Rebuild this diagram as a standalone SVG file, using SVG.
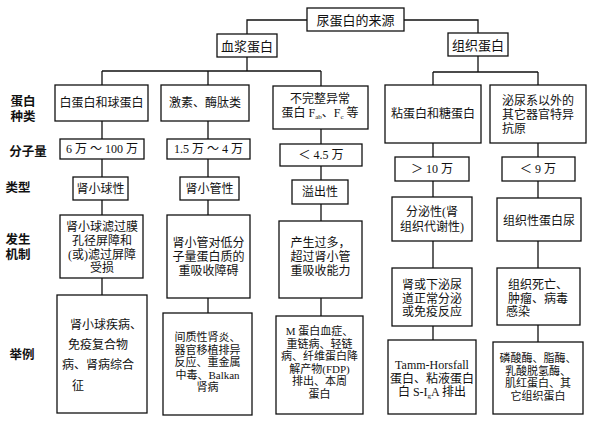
<svg xmlns="http://www.w3.org/2000/svg" width="592" height="426" viewBox="0 0 592 426">
<style>
.b{fill:#fff;stroke:#111;stroke-width:1.3}
.c{fill:none;stroke:#111;stroke-width:1.3}
text{font-family:"Liberation Serif","Noto Sans CJK SC",serif;font-size:12px;fill:#111;text-anchor:middle;dominant-baseline:central}
.l{font-weight:bold;font-size:12.5px}
.s{text-anchor:start}
.h{font-size:13px}
.d{font-size:11px}
.sub{font-size:7px}
</style>
<rect width="592" height="426" fill="#fff"/>
<g id="connectors" class="c">
<path d="M307 20H247V34M404 20H478V33"/>
<path d="M247 57V71M102 71H321M102 71V85M208 71V85M321 71V86"/>
<path d="M478 56V72M433 72H538M433 72V85M538 72V85"/>
<path d="M102 121V139M102 159V177M102 200V215M102 278V295"/>
<path d="M208 121V139M208 159V177M208 200V215M208 298V313"/>
<path d="M321 129V144M321 166V180M321 204V221M321 298V316"/>
<path d="M433 143V157M433 181V197M433 241V268M433 326V340"/>
<path d="M538 143V157M538 181V198M538 241V268M538 325V342"/>
</g>
<g id="labels">
<text class="l" x="23" y="102">蛋白</text>
<text class="l" x="23" y="117">种类</text>
<text class="l" x="28" y="152">分子量</text>
<text class="l" x="18" y="188">类型</text>
<text class="l" x="18" y="240">发生</text>
<text class="l" x="18" y="255">机制</text>
<text class="l" x="22" y="355">举例</text>
</g>
<g id="root"><rect class="b" x="307" y="8" width="97" height="23"/><text class="h" x="355.5" y="20">尿蛋白的来源</text></g>
<g id="plasma"><rect class="b" x="217" y="34" width="60" height="23"/><text class="h" x="247" y="46">血浆蛋白</text></g>
<g id="tissue"><rect class="b" x="448" y="33" width="60" height="23"/><text class="h" x="478" y="45">组织蛋白</text></g>

<g id="c1r1"><rect class="b" x="55" y="85" width="93" height="36"/><text x="101.5" y="103">白蛋白和球蛋白</text></g>
<g id="c2r1"><rect class="b" x="161" y="85" width="88" height="36"/><text x="205" y="103">激素、酶肽类</text></g>
<g id="c3r1"><rect class="b" x="273" y="86" width="95" height="43"/><text x="320" y="99">不完整异常</text><text x="320" y="113">蛋白 F<tspan class="sub" baseline-shift="sub">ab</tspan>、F<tspan class="sub" baseline-shift="sub">c</tspan> 等</text></g>
<g id="c4r1"><rect class="b" x="385" y="85" width="96" height="58"/><text x="433" y="114">粘蛋白和糖蛋白</text></g>
<g id="c5r1"><rect class="b" x="490" y="85" width="96" height="58"/><text class="s" x="502" y="101">泌尿系以外的</text><text class="s" x="502" y="115">其它器官特异</text><text class="s" x="502" y="129">抗原</text></g>

<g id="c1r2"><rect class="b" x="60" y="139" width="84" height="20"/><text x="102" y="149">6 万 ～ 100 万</text></g>
<g id="c2r2"><rect class="b" x="167" y="139" width="83" height="20"/><text x="208.5" y="149">1.5 万 ～ 4 万</text></g>
<g id="c3r2"><rect class="b" x="280" y="144" width="82" height="22"/><text x="321" y="155">＜ 4.5 万</text></g>
<g id="c4r2"><rect class="b" x="395" y="157" width="74" height="24"/><text x="432" y="169">＞ 10 万</text></g>
<g id="c5r2"><rect class="b" x="502" y="157" width="73" height="24"/><text x="538" y="169">＜ 9 万</text></g>

<g id="c1r3"><rect class="b" x="73" y="177" width="55" height="23"/><text x="100.5" y="189">肾小球性</text></g>
<g id="c2r3"><rect class="b" x="180" y="177" width="59" height="23"/><text x="209.5" y="189">肾小管性</text></g>
<g id="c3r3"><rect class="b" x="292" y="180" width="56" height="24"/><text x="320" y="192">溢出性</text></g>
<g id="c4r3"><rect class="b" x="392" y="197" width="80" height="44"/><text x="432" y="212">分泌性(肾</text><text x="432" y="227">组织代谢性)</text></g>
<g id="c5r3"><rect class="b" x="497" y="198" width="84" height="43"/><text x="539" y="221">组织性蛋白尿</text></g>

<g id="c1r4"><rect class="b" x="60" y="215" width="83" height="63"/><text x="102" y="227">肾小球滤过膜</text><text x="102" y="241">孔径屏障和</text><text x="102" y="255">(或)滤过屏障</text><text x="102" y="268">受损</text></g>
<g id="c2r4"><rect class="b" x="167" y="215" width="83" height="83"/><text x="208.5" y="243">肾小管对低分</text><text x="208.5" y="257">子量蛋白质的</text><text x="208.5" y="271">重吸收障碍</text></g>
<g id="c3r4"><rect class="b" x="279" y="221" width="83" height="77"/><text x="320.5" y="243">产生过多，</text><text x="320.5" y="257">超过肾小管</text><text x="320.5" y="271">重吸收能力</text></g>
<g id="c4r4"><rect class="b" x="392" y="268" width="80" height="58"/><text x="432" y="285">肾或下泌尿</text><text x="432" y="298.5">道正常分泌</text><text x="432" y="312">或免疫反应</text></g>
<g id="c5r4"><rect class="b" x="497" y="268" width="83" height="57"/><text class="s" x="508" y="285">组织死亡、</text><text class="s" x="508" y="298.5">肿瘤、病毒</text><text class="s" x="506" y="312">感染</text></g>

<g id="c1r5"><rect class="b" x="57" y="295" width="90" height="118"/><text class="s" x="70" y="325">肾小球疾病、</text><text class="s" x="68" y="345">免疫复合物</text><text class="s" x="62" y="365">病、肾病综合</text><text class="s" x="72" y="386">征</text></g>
<g id="c2r5" class="d"><rect class="b" x="163" y="313" width="89" height="102"/><text class="d" x="207.5" y="337">间质性肾炎、</text><text class="d" x="207.5" y="349.5">器官移植排异</text><text class="d" x="207.5" y="362">反应、重金属</text><text class="d" x="207.5" y="374.5">中毒、Balkan</text><text class="d" x="207.5" y="387">肾病</text></g>
<g id="c3r5"><rect class="b" x="276" y="316" width="87" height="98"/><text class="d" x="319.5" y="331">M 蛋白血症、</text><text class="d" x="319.5" y="343.5">重链病、轻链</text><text class="d" x="319.5" y="356">病、纤维蛋白降</text><text class="d" x="319.5" y="368.5">解产物(FDP)</text><text class="d" x="319.5" y="381">排出、本周</text><text class="d" x="319.5" y="393.5">蛋白</text></g>
<g id="c4r5"><rect class="b" x="388" y="340" width="88" height="74"/><text x="432" y="365">Tamm-Horsfall</text><text x="432" y="378.5">蛋白、粘液蛋白</text><text x="432" y="392">白 S-I<tspan class="sub" baseline-shift="sub">g</tspan>A 排出</text></g>
<g id="c5r5"><rect class="b" x="493" y="342" width="90" height="72"/><text class="d" x="538" y="358">磷酸酶、脂酶、</text><text class="d" x="538" y="370.5">乳酸脱氢酶、</text><text class="d" x="538" y="383">肌红蛋白、其</text><text class="d" x="538" y="395.5">它组织蛋白</text></g>
</svg>
